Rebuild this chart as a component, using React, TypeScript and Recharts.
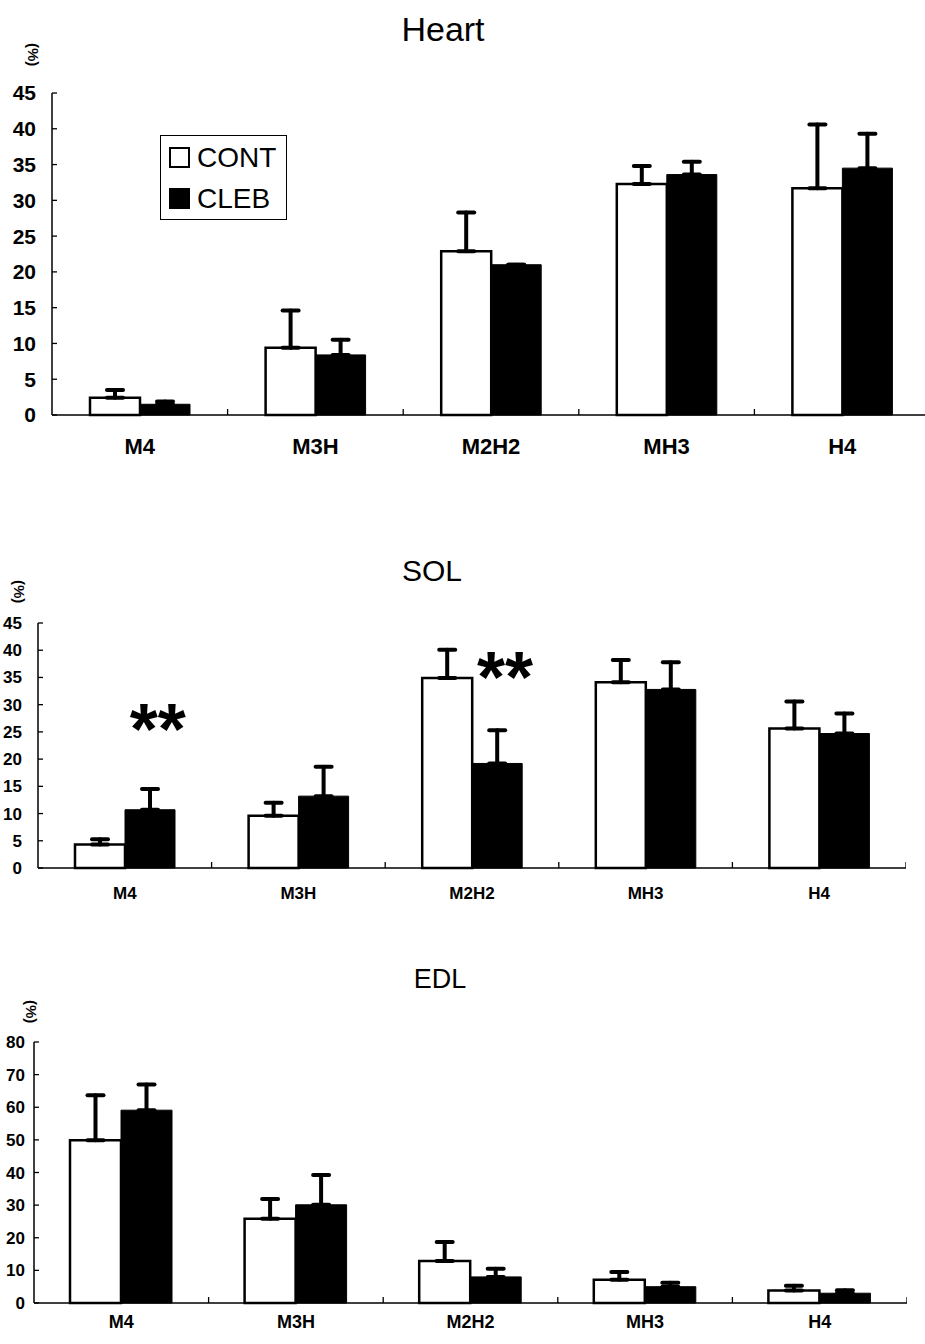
import React from 'react';
import { BarChart, Bar, XAxis, YAxis, ErrorBar, Legend, ReferenceDot } from 'recharts';

const FONT = '"Liberation Sans", Arial, Helvetica, sans-serif';

const categories = ['M4', 'M3H', 'M2H2', 'MH3', 'H4'];
const seriesOrder = ['CONT', 'CLEB'];

// Heart
const heartCont = [2.4, 9.4, 22.9, 32.3, 31.7];
const heartContErr = [1.1, 5.2, 5.4, 2.5, 8.9];
const heartCleb = [1.5, 8.4, 21.0, 33.6, 34.5];
const heartClebErr = [0.4, 2.1, 0, 1.8, 4.8];

// SOL
const solCont = [4.3, 9.6, 34.9, 34.1, 25.6];
const solContErr = [1.0, 2.4, 5.2, 4.1, 5.0];
const solCleb = [10.7, 13.2, 19.2, 32.8, 24.7];
const solClebErr = [3.8, 5.4, 6.1, 5.0, 3.7];

// EDL
const edlCont = [49.9, 25.8, 12.9, 7.1, 3.8];
const edlContErr = [13.8, 6.1, 5.8, 2.4, 1.5];
const edlCleb = [59.1, 30.1, 8.0, 5.0, 3.0];
const edlClebErr = [7.9, 9.1, 2.5, 1.2, 0.9];

const ticks45 = [0, 5, 10, 15, 20, 25, 30, 35, 40, 45];
const ticks80 = [0, 10, 20, 30, 40, 50, 60, 70, 80];

// significance marks (**) on SOL
const solStarCats = ['M4', 'M2H2'];
const solStarY = [28.3, 37.9];

function Stars(props: any) {
  const vb = props.viewBox || {};
  const cx = vb.x + (vb.width || 0) / 2 + 33;
  const cy = vb.y + (vb.height || 0) / 2;
  return (
    <text x={cx} y={cy + 40} textAnchor="middle" fontSize={72} fontWeight={700} fontFamily={FONT} fill="#000">
      **
    </text>
  );
}

function LegendBox(props: any) {
  const items = [...(props.payload || [])].sort(
    (a: any, b: any) => seriesOrder.indexOf(a.value) - seriesOrder.indexOf(b.value)
  );
  return (
    <div style={{ border: '1.5px solid #000', width: 127, height: 85, boxSizing: 'border-box', padding: '1px 0 0 8px', background: '#fff' }}>
      {items.map((it: any) => (
        <div key={it.value} style={{ display: 'flex', alignItems: 'center', height: 41 }}>
          <span style={{ display: 'inline-block', width: 17, height: 17, border: '2px solid #000', background: it.color, marginRight: 7 }} />
          <span style={{ fontFamily: FONT, fontSize: 28, color: '#000', lineHeight: '28px' }}>{it.value}</span>
        </div>
      ))}
    </div>
  );
}

// category label plus the small upward ticks at the category boundaries
function CatTick(props: any) {
  const { x, y, payload, index, visibleTicksCount, fontSize, gap } = props;
  const half = payload.offset || 0;
  const axisY = y - gap;
  return (
    <g>
      {index > 0 && <line x1={x - half} x2={x - half} y1={axisY} y2={axisY - 6} stroke="#000" strokeWidth={1.3} />}
      {index === visibleTicksCount - 1 && (
        <line x1={x + half} x2={x + half} y1={axisY} y2={axisY - 6} stroke="#000" strokeWidth={1.3} />
      )}
      <text x={x} y={y} dy="0.71em" textAnchor="middle" fill="#000" fontSize={fontSize} fontWeight={700} fontFamily={FONT}>
        {payload.value}
      </text>
    </g>
  );
}

// value label plus a short inward tick
function ValTick(props: any) {
  const { x, y, payload, fontSize, gap } = props;
  const axisX = x + gap;
  return (
    <g>
      <line x1={axisX} x2={axisX + 5} y1={y} y2={y} stroke="#000" strokeWidth={1.3} />
      <text x={x} y={y} dy="0.355em" textAnchor="end" fill="#000" fontSize={fontSize} fontWeight={700} fontFamily={FONT}>
        {payload.value}
      </text>
    </g>
  );
}

type PanelProps = {
  top: number;
  width: number;
  height: number;
  plotTop: number;
  xAxisHeight: number;
  yAxisWidth: number;
  yMax: number;
  yTicks: number[];
  yFont: number;
  yGap: number;
  xFont: number;
  xGap: number;
  barSize: number;
  cont: number[];
  contErr: number[];
  cleb: number[];
  clebErr: number[];
  legend?: boolean;
  stars?: boolean;
};

function Panel(p: PanelProps) {
  const data = categories.map((c, i) => ({
    cat: c,
    cont: p.cont[i],
    contErr: [0, p.contErr[i]],
    cleb: p.cleb[i],
    clebErr: [0, p.clebErr[i]],
  }));
  return (
    <div style={{ position: 'absolute', left: 0, top: p.top, width: p.width, height: p.height }}>
      <BarChart
        width={p.width}
        height={p.height}
        data={data}
        margin={{ top: p.plotTop, right: 0, left: 0, bottom: 0 }}
        barGap={0}
        barSize={p.barSize}
      >
        <XAxis
          dataKey="cat"
          interval={0}
          height={p.xAxisHeight}
          tickLine={false}
          tickSize={0}
          tickMargin={p.xGap}
          axisLine={{ stroke: '#000', strokeWidth: 1.5 }}
          tick={<CatTick fontSize={p.xFont} gap={p.xGap} />}
        />
        <YAxis
          domain={[0, p.yMax]}
          ticks={p.yTicks}
          interval={0}
          width={p.yAxisWidth}
          axisLine={{ stroke: '#000', strokeWidth: 1.5 }}
          tickLine={false}
          tickSize={0}
          tickMargin={p.yGap}
          tick={<ValTick fontSize={p.yFont} gap={p.yGap} />}
        />
        {p.legend && (
          <Legend
            layout="vertical"
            align="center"
            verticalAlign="middle"
            content={<LegendBox />}
            wrapperStyle={{ left: 160, top: 135, width: 127, height: 85 }}
          />
        )}
        <Bar dataKey="cont" name="CONT" fill="#fff" stroke="#000" strokeWidth={2.5} isAnimationActive={false}>
          <ErrorBar dataKey="contErr" width={8} strokeWidth={4} stroke="#000" direction="y" strokeLinecap="round" />
        </Bar>
        <Bar dataKey="cleb" name="CLEB" fill="#000" stroke="#000" strokeWidth={1} isAnimationActive={false}>
          <ErrorBar dataKey="clebErr" width={8} strokeWidth={4} stroke="#000" direction="y" strokeLinecap="round" />
        </Bar>
        {p.stars &&
          solStarCats.map((c, i) => (
            <ReferenceDot key={c} x={c} y={solStarY[i]} r={0} fill="none" stroke="none" label={<Stars />} />
          ))}
      </BarChart>
    </div>
  );
}

const titleStyle = (left: number, top: number, size: number): React.CSSProperties => ({
  position: 'absolute',
  left,
  top,
  width: 200,
  textAlign: 'center',
  fontFamily: FONT,
  fontSize: size,
  color: '#000',
  lineHeight: 1,
});

const unitStyle = (left: number, top: number): React.CSSProperties => ({
  position: 'absolute',
  left,
  top,
  fontFamily: FONT,
  fontSize: 15,
  fontWeight: 700,
  color: '#000',
  transform: 'rotate(90deg)',
  transformOrigin: 'left top',
  lineHeight: 1,
});

export default function App() {
  return (
    <div style={{ position: 'absolute', left: 0, top: 0, width: 925, height: 1344, overflow: 'hidden', background: '#fff' }}>
      <div style={titleStyle(343, 12, 34)}>Heart</div>
      <div style={unitStyle(41, 43)}>(%)</div>
      <Panel
        top={0}
        width={930}
        height={470}
        plotTop={93}
        xAxisHeight={55}
        yAxisWidth={52}
        yMax={45}
        yTicks={ticks45}
        yFont={21}
        yGap={16}
        xFont={22}
        xGap={23}
        barSize={50}
        cont={heartCont}
        contErr={heartContErr}
        cleb={heartCleb}
        clebErr={heartClebErr}
        legend
      />

      <div style={titleStyle(332, 556, 30)}>SOL</div>
      <div style={unitStyle(27, 580)}>(%)</div>
      <Panel
        top={520}
        width={906}
        height={388}
        plotTop={103}
        xAxisHeight={40}
        yAxisWidth={38}
        yMax={45}
        yTicks={ticks45}
        yFont={17}
        yGap={16}
        xFont={17}
        xGap={19}
        barSize={50}
        cont={solCont}
        contErr={solContErr}
        cleb={solCleb}
        clebErr={solClebErr}
        stars
      />

      <div style={titleStyle(340, 966, 27)}>EDL</div>
      <div style={unitStyle(39, 1000)}>(%)</div>
      <Panel
        top={940}
        width={907}
        height={404}
        plotTop={102}
        xAxisHeight={41}
        yAxisWidth={34}
        yMax={80}
        yTicks={ticks80}
        yFont={17}
        yGap={9}
        xFont={18}
        xGap={12}
        barSize={51}
        cont={edlCont}
        contErr={edlContErr}
        cleb={edlCleb}
        clebErr={edlClebErr}
      />
    </div>
  );
}
